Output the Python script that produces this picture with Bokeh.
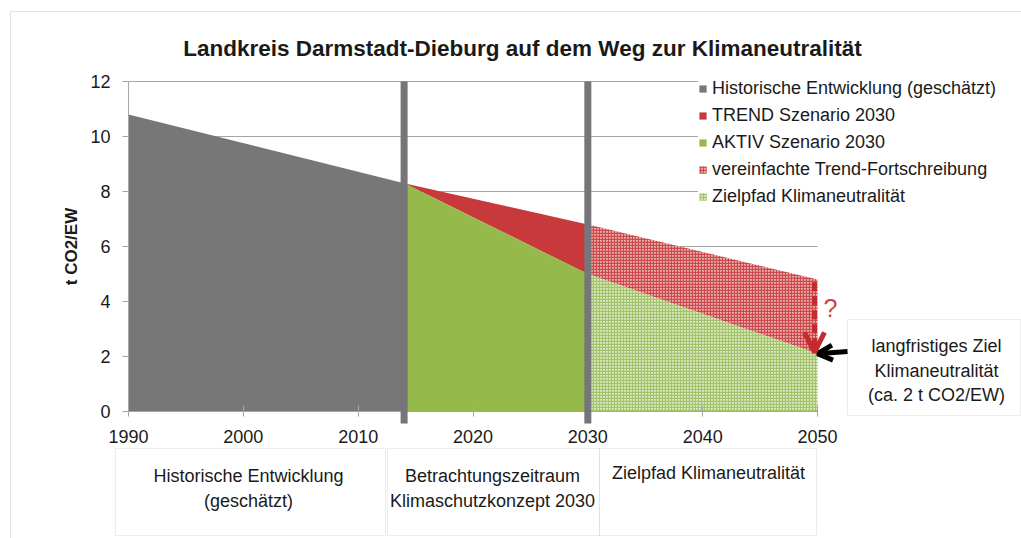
from bokeh.plotting import figure
from bokeh.models import (Range1d, Label, BoxAnnotation, Arrow, OpenHead, Legend,
                          LegendItem, FixedTicker)
from bokeh.embed import file_html
from bokeh.resources import INLINE

# ---------------- data ----------------
title_text = "Landkreis Darmstadt-Dieburg auf dem Weg zur Klimaneutralität"
y_label = "t CO2/EW"

hist_years = [1990, 2014]
hist_values = [10.8, 8.3]

period_years = [2014, 2030]
trend_2030 = [8.3, 6.8]
aktiv_2030 = [8.3, 5.0]

future_years = [2030, 2050]
trend_fort = [6.8, 4.8]
zielpfad = [5.0, 2.1]

divider_years = [2014, 2030]
x_ticks = [1990, 2000, 2010, 2020, 2030, 2040, 2050]
y_ticks = [0, 2, 4, 6, 8, 10, 12]

legend_labels = ["Historische Entwicklung (geschätzt)", "TREND Szenario 2030",
                 "AKTIV Szenario 2030", "vereinfachte Trend-Fortschreibung",
                 "Zielpfad Klimaneutralität"]
phase_box1 = ["Historische Entwicklung", "(geschätzt)"]
phase_box2 = ["Betrachtungszeitraum", "Klimaschutzkonzept 2030"]
phase_box3 = ["Zielpfad Klimaneutralität"]
target_text = ["langfristiges Ziel", "Klimaneutralität", "(ca. 2 t CO2/EW)"]

# ---------------- style / layout ----------------
FONT = "Liberation Sans"
TXT = "#1a1a1a"
GRAY = "#777777"
DIV = "#75757a"
RED = "#c8393b"
GREEN = "#95b94a"
GRID = "#a6a6a6"
ARROW_RED = "#c42a2e"
W, H = 1021, 538
# pixel position of the chart's data window inside the canvas
PX_L, PX_R, PX_T, PX_B = 128, 817, 81, 411
X0, X1 = x_ticks[0], x_ticks[-1]
Y0, Y1 = y_ticks[0], y_ticks[-1]
sx = (PX_R - PX_L) / (X1 - X0)
sy = (PX_B - PX_T) / (Y1 - Y0)
x_range = Range1d(X0 - PX_L / sx, X1 + (W - PX_R) / sx)
y_range = Range1d(Y0 - (H - PX_B) / sy, Y1 + PX_T / sy)

p = figure(width=W, height=H, x_range=x_range, y_range=y_range,
           output_backend="svg", toolbar_location=None, min_border=0)
p.title.visible = False
p.outline_line_color = None
p.background_fill_color = "white"
p.border_fill_color = "white"
p.xgrid.visible = False
p.ygrid.visible = False

p.xaxis.ticker = FixedTicker(ticks=x_ticks)
p.yaxis.ticker = FixedTicker(ticks=y_ticks)
p.xaxis.fixed_location = Y0
p.yaxis.fixed_location = X0
p.xaxis.bounds = (X0, X1)
p.yaxis.bounds = (Y0, Y1)
for ax in (p.xaxis, p.yaxis):
    ax.axis_line_color = GRID
    ax.major_tick_line_color = GRID
    ax.minor_tick_line_color = None
    ax.major_label_text_font = FONT
    ax.major_label_text_font_size = "18px"
    ax.major_label_text_color = TXT
p.xaxis.major_tick_in = 6
p.xaxis.major_tick_out = 5
p.xaxis.major_label_standoff = 13
p.yaxis.major_tick_in = 0
p.yaxis.major_tick_out = 6
p.yaxis.major_label_standoff = 12
p.yaxis.axis_label = y_label
p.yaxis.axis_label_text_font = FONT
p.yaxis.axis_label_text_font_style = "bold"
p.yaxis.axis_label_text_font_size = "17px"
p.yaxis.axis_label_text_color = TXT
p.yaxis.axis_label_standoff = 6

# gridlines limited to the data window
p.segment(x0=X0, x1=X1, y0=y_ticks[1:], y1=y_ticks[1:], line_color=GRID, line_width=1)

# ---------------- areas ----------------
r_hist = p.varea(x=hist_years, y1=0, y2=hist_values, fill_color=GRAY)
r_trend = p.varea(x=period_years, y1=aktiv_2030, y2=trend_2030, fill_color=RED)
r_aktiv = p.varea(x=period_years, y1=0, y2=aktiv_2030, fill_color=GREEN)
r_fort = p.varea(x=future_years, y1=zielpfad, y2=trend_fort, fill_color="#e9afaf",
                 hatch_pattern="cross", hatch_color="#cc4a4c", hatch_scale=3, hatch_weight=1.3)
r_ziel = p.varea(x=future_years, y1=0, y2=zielpfad, fill_color="#dce9c3",
                 hatch_pattern="cross", hatch_color="#a3c36a", hatch_scale=3, hatch_weight=1.3)

for yr in divider_years:
    p.add_layout(Arrow(end=None, x_start=yr, y_start=Y0 - 12 / sy, x_end=yr, y_end=Y1,
                       line_width=7, line_color=DIV))

# ---------------- legend ----------------
renderers = [r_hist, r_trend, r_aktiv, r_fort, r_ziel]
legend = Legend(items=[LegendItem(label=l, renderers=[r]) for l, r in zip(legend_labels, renderers)],
                location=(698, H - 206.5), label_text_font=FONT, label_text_font_size="18px",
                label_text_color=TXT, glyph_width=9, glyph_height=9, label_height=21,
                spacing=6, padding=12, margin=0, border_line_color=None,
                background_fill_color="white", background_fill_alpha=1.0, label_standoff=5)
p.add_layout(legend)

# ---------------- annotations (canvas px, measured from the top-left) ----------------
def label(text, x, y, size="18px", color=TXT, style="normal", align="center"):
    p.add_layout(Label(x=x, y=y, x_units="canvas", y_units="canvas", text=text,
                       text_font=FONT, text_font_size=size, text_color=color,
                       text_font_style=style, text_align=align, text_baseline="middle"))

def box(l, t, r, b, color="#c4c4c4"):
    p.add_layout(BoxAnnotation(left=l, right=r, top=t, bottom=b,
                               left_units="canvas", right_units="canvas",
                               top_units="canvas", bottom_units="canvas",
                               fill_alpha=0, line_color=color, line_width=1))

# outer frame
box(10, 11, 1040, 560, color="#9a9a9a")
label(title_text, 522, 48, size="22.5px", style="bold")

box(115, 448, 385, 535)
box(387, 448, 599, 535)
box(599, 448, 816, 535)
label(phase_box1[0], 248, 475)
label(phase_box1[1], 248, 500)
label(phase_box2[0], 492, 475)
label(phase_box2[1], 492, 500)
label(phase_box3[0], 708, 472)

box(847, 319, 1020, 415)
for t, yy in zip(target_text, [345, 370, 394]):
    label(t, 936, yy)

# arrows
p.add_layout(Arrow(x_start=847, y_start=351, start_units="canvas",
                   x_end=future_years[1], y_end=zielpfad[1], end_units="data",
                   line_width=5, line_color="black",
                   end=OpenHead(size=15, line_width=5, line_color="black")))
p.add_layout(Arrow(x_start=X1 - 3 / sx, y_start=trend_fort[1] - 0.1, x_end=X1 - 3 / sx,
                   y_end=zielpfad[1] + 0.05,
                   line_width=5, line_color=ARROW_RED, line_dash="9 5",
                   end=OpenHead(size=20, line_width=5, line_color=ARROW_RED)))
label("?", 830, 307, size="25px", color="#d04346")

open("out.html", "w").write(file_html(p, INLINE))
